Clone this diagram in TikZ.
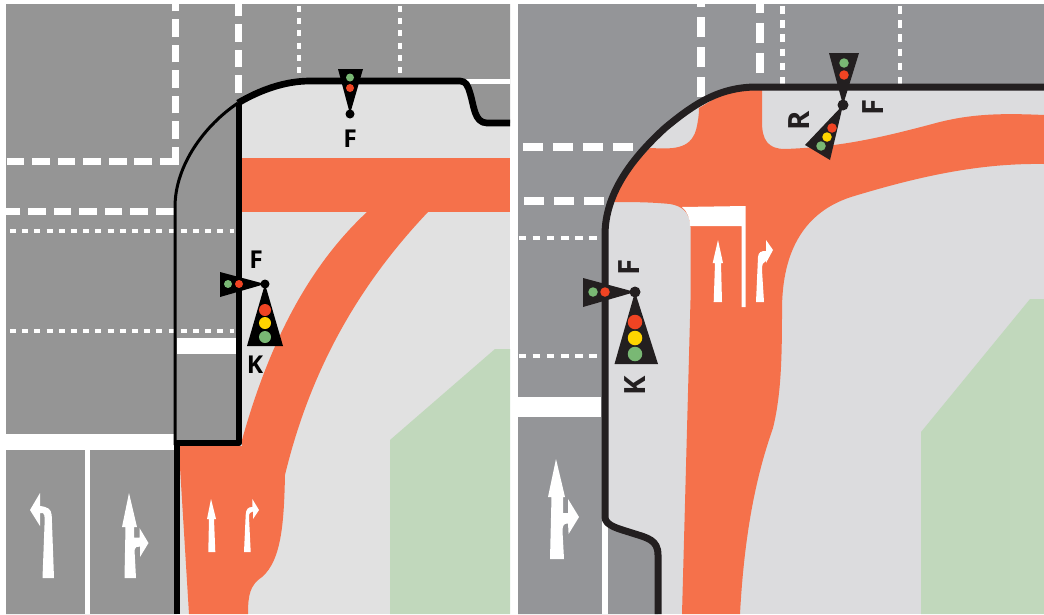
\documentclass[tikz,border=0pt]{standalone}
\usepackage{fontspec}
\setmainfont{Open Sans}
\definecolor{roadl}{HTML}{959595}
\definecolor{roadr}{HTML}{949598}
\definecolor{groundl}{HTML}{E1E1E1}
\definecolor{groundr}{HTML}{DCDCDE}
\definecolor{lane}{HTML}{F5714B}
\definecolor{grass}{HTML}{C1D8BC}
\definecolor{kerbr}{HTML}{231F20}
\definecolor{lred}{HTML}{F04423}
\definecolor{lyellow}{HTML}{FFD500}
\definecolor{lgreen}{HTML}{79B874}
\begin{document}
\begin{tikzpicture}[
		x=.03cm, y=-.03cm,
		dashline/.style = {draw=white, line width=.21cm, dash pattern=on .53cm off .236cm},
		dashr/.style = {draw=white, line width=.24cm, dash pattern=on .6cm off .3cm},
		dotline/.style = {draw=white, line width=.125cm, dash pattern=on .18cm off .186cm},
		dotr/.style = {draw=white, line width=.14cm, dash pattern=on .225cm off .2cm},
		paint/.style = {fill=white},
		kerbl/.style = {draw=black, line width=.18cm, line join=round},
		kerbtop/.style = {draw=black, line width=.2cm, line join=round},
		kerbrr/.style = {draw=kerbr, line width=.21cm, line join=round},
		lamp/.style = {circle, inner sep=0pt, minimum size=#1*.03cm},
		pole/.style = {circle, inner sep=0pt, minimum size=#1*.03cm},
		smalltxt/.style = {font=\fontsize{21}{21}\selectfont\bfseries, text=black},
		bigtxt/.style = {font=\fontsize{25}{25}\selectfont\bfseries, text=kerbr, rotate=90}
		]
		\useasboundingbox (0,0) rectangle (1044,614);
		
		%Left panel
		\fill[groundl] (6,4) rectangle (510,614);
		\fill[roadl] (6,4) -- (510,4) -- (510,123) -- (487,123) .. controls (474,123) and (474,105) .. (470,93) .. controls (468,86) and (466,81) .. (460,81) -- (310,81) .. controls (285,81) and (260,90) .. (238,103) -- (238,443) -- (177,443) -- (177,614) -- (6,614) -- cycle;
		
		%Left markings
		\draw[dashline] (175,164.5) -- (175,4);
		\draw[dashline] (238,93) -- (238,4);
		\draw[dashline] (6.7,161) -- (178.5,161);
		\draw[dashline] (173.5,211) -- (6,211);
		\draw[dotline] (10,231) -- (234,231);
		\draw[dotline] (10,331) -- (234,331);
		\draw[dotline] (299,6) -- (299,73);
		\draw[dotline] (400,6) -- (400,73);
		\fill[paint] (177,338) rectangle (236,354);
		\fill[paint] (6,434) rectangle (174,450);
		\fill[paint] (84.5,450) rectangle (89.5,614);
		\fill[paint] (464,79) rectangle (510,84);
		
		%Left lanes
		\fill[lane] (241,158) rectangle (510,212);
		\fill[lane] (428,212) .. controls (375,268) and (315,350) .. (285,475) .. controls (284,520) and (282,560) .. (262,577) .. controls (250,585) and (248,595) .. (248,614) -- (189,614) -- (180,467) -- (180,446) -- (242,446) -- (242,440) .. controls (270,340) and (310,265) .. (367,212) -- cycle;
		\fill[grass] (390,440) -- (495,349) -- (510,349) -- (510,614) -- (390,614) -- cycle;
		
		%Left arrows
		\fill[paint] (42.5,578) -- (54,578) -- (51.7,515) .. controls (51,509) and (48,507) .. (40,506) -- (40,493) -- (30,510) -- (40,526) -- (40,513) -- (43,513) .. controls (44.5,514) and (44.5,516) .. (44.7,520) -- cycle;
		\fill[paint] (124.5,578) -- (136,578) -- (134.5,550) .. controls (134.5,547) and (137,546.5) .. (140,546.5) -- (140,557) -- (148.5,543) -- (139.5,528) -- (139.5,537.5) -- (134,537.5) -- (134,527) -- (137,527) -- (129,493) -- (122,527) -- (125.5,527) -- cycle;
		\fill[paint] (208.3,552) -- (215.3,552) -- (214,519) -- (216,519) -- (211,499) -- (207,519) -- (209,519) -- cycle;
		\fill[paint] (244,552) -- (250.7,552) -- (249,517) .. controls (249,513) and (250,512) .. (253,511.5) -- (253,519) -- (259,510) -- (252.3,499) -- (252.3,507) .. controls (248,507) and (246,509) .. (245.7,515) -- cycle;
		
		%Left kerb
		\draw[kerbtop] (510,123) -- (487,123) .. controls (474,123) and (474,105) .. (470,93) .. controls (468,86) and (466,81) .. (460,81) -- (310,81) .. controls (285,81) and (260,90) .. (238,103);
		\draw[draw=black, line width=.09cm] (238,103) .. controls (205,125) and (175,165) .. (175,207) -- (175,445);
		\draw[kerbl] (239,103) -- (239,443) -- (177,443) -- (177,614);
		
		%Left signals
		\node[pole=9, fill=black] (pa) at (265,284) {};
		\fill[black] (220,272) -- (220,297) -- (pa.center) -- cycle;
		\fill[black] (247,346) -- (283,346) -- (pa.center) -- cycle;
		\node[lamp=8, fill=lgreen] (ga) at (228,284) {};
		\node[lamp=8, fill=lred] (ra) at (239,284) {};
		\node[lamp=12, fill=lred] (rb) at (265,310) {};
		\node[lamp=12, fill=lyellow] (yb) at (265,323) {};
		\node[lamp=12, fill=lgreen] (gb) at (265,337) {};
		\node[pole=9, fill=black] (pc) at (350,114) {};
		\fill[black] (338,69) -- (363,69) -- (pc.center) -- cycle;
		\node[lamp=8, fill=lgreen] (gc) at (350,77.5) {};
		\node[lamp=8, fill=lred] (rc) at (350,88) {};
		\node[smalltxt] (fa) at (256,260) {F};
		\node[smalltxt] (ka) at (255,365) {K};
		\node[smalltxt] (fc) at (350,139) {F};
		
		%Right panel
		\fill[groundr] (518,4) rectangle (1044,614);
		\fill[roadr] (518,4) -- (1044,4) -- (1044,87) -- (757,87) .. controls (720,87) and (695,103) .. (665,128) .. controls (630,160) and (605,195) .. (605,235) -- (605,517) .. controls (605,526) and (620,529) .. (632,533) .. controls (648,538) and (658,540) .. (658,555) -- (658,614) -- (518,614) -- cycle;
		
		%Right markings
		\draw[dashr] (701,97) -- (701,4);
		\draw[dashr] (760,73) -- (760,4);
		\draw[dashr] (633,147) -- (523,147);
		\draw[dashr] (604,201) -- (523,201);
		\draw[dotr] (518.5,238) -- (597,238);
		\draw[dotr] (518.5,356) -- (597,356);
		\draw[dotr] (782.5,6) -- (782.5,84);
		\draw[dotr] (900,6) -- (900,84);
		\fill[paint] (518,397) rectangle (601,417);
		\fill[paint] (602,520) rectangle (608,614);
		
		%Right lanes
		\fill[lane] (757,87) -- (762,90) -- (762,122) .. controls (762,140) and (768,149) .. (785,149) .. controls (840,147) and (880,138) .. (936,123) .. controls (970,114) and (1000,113) .. (1044,115) -- (1044,164) .. controls (980,163) and (920,176) .. (851,197) .. controls (805,212) and (782,250) .. (782,310) .. controls (782,360) and (781,395) .. (773,428) .. controls (760,465) and (745,520) .. (740,614) -- (682,614) -- (690.5,300) -- (690.5,227) .. controls (690,212) and (682,206) .. (670,204) .. controls (650,202) and (630,202) .. (612,202) -- (625,172) -- (650,148) .. controls (672,149) and (690,150) .. (696,130) .. controls (698,122) and (699,115) .. (699,108) -- (729,90) -- cycle;
		\fill[grass] (921,432) -- (1030,299) -- (1044,299) -- (1044,614) -- (921,614) -- cycle;
		\fill[paint] (682,207) .. controls (687,211) and (690,218) .. (690,226) -- (741.6,226) -- (741.6,307) -- (745.7,307) -- (745.7,206) -- cycle;
		
		%Right arrows
		\fill[paint] (713.7,302) -- (722,302) -- (721,263) -- (723,263) -- (718,240) -- (712.7,263) -- (715,263) -- cycle;
		\fill[paint] (756,302) -- (764,302) -- (762,270) .. controls (762,264) and (763,262) .. (766,261) -- (766,263) -- (773,250) -- (766,240) -- (766,251) .. controls (761,251) and (758.5,252) .. (758,257) -- cycle;
		\fill[paint] (550,559) -- (564,559) -- (562.5,531) .. controls (562.5,525) and (564,523.5) .. (568,523.5) -- (568.6,534) -- (579,517) -- (568,499) -- (568,513) -- (563,513) -- (563,497) -- (565,497) -- (556,459) -- (548,497) -- (551.5,497) -- cycle;
		
		%Right kerb
		\draw[kerbrr] (1044,87) -- (757,87) .. controls (720,87) and (695,103) .. (665,128) .. controls (630,160) and (605,195) .. (605,235) -- (605,517) .. controls (605,526) and (620,529) .. (632,533) .. controls (648,538) and (658,540) .. (658,555) -- (658,614);
		
		%Right signals
		\node[pole=11, fill=kerbr] (pd) at (843,105) {};
		\fill[kerbr] (829,53) -- (859,53) -- (pd.center) -- cycle;
		\fill[kerbr] (805,145) -- (830,160) -- (pd.center) -- cycle;
		\node[lamp=9.5, fill=lgreen] (gd) at (844,63) {};
		\node[lamp=9.5, fill=lred] (rd) at (844,75) {};
		\node[lamp=9.5, fill=lred] (re) at (832,128) {};
		\node[lamp=9.5, fill=lyellow] (ye) at (827,137) {};
		\node[lamp=9.5, fill=lgreen] (ge) at (821,146) {};
		\node[pole=11, fill=kerbr] (pf) at (635,292) {};
		\fill[kerbr] (583,278) -- (583,307) -- (pf.center) -- cycle;
		\fill[kerbr] (614.5,364) -- (658,364) -- (pf.center) -- cycle;
		\node[lamp=9.5, fill=lgreen] (gf) at (593,292) {};
		\node[lamp=9.5, fill=lred] (rf) at (605,292) {};
		\node[lamp=14.5, fill=lred] (rg) at (635,322) {};
		\node[lamp=14.5, fill=lyellow] (yg) at (635,338) {};
		\node[lamp=14.5, fill=lgreen] (gg) at (635,354) {};
		\node[bigtxt] (fd) at (873,107) {F};
		\node[bigtxt] (rr) at (799.5,121) {R};
		\node[bigtxt] (ff) at (629,267) {F};
		\node[bigtxt] (kg) at (635,386) {K};
	\end{tikzpicture}
\end{document}
